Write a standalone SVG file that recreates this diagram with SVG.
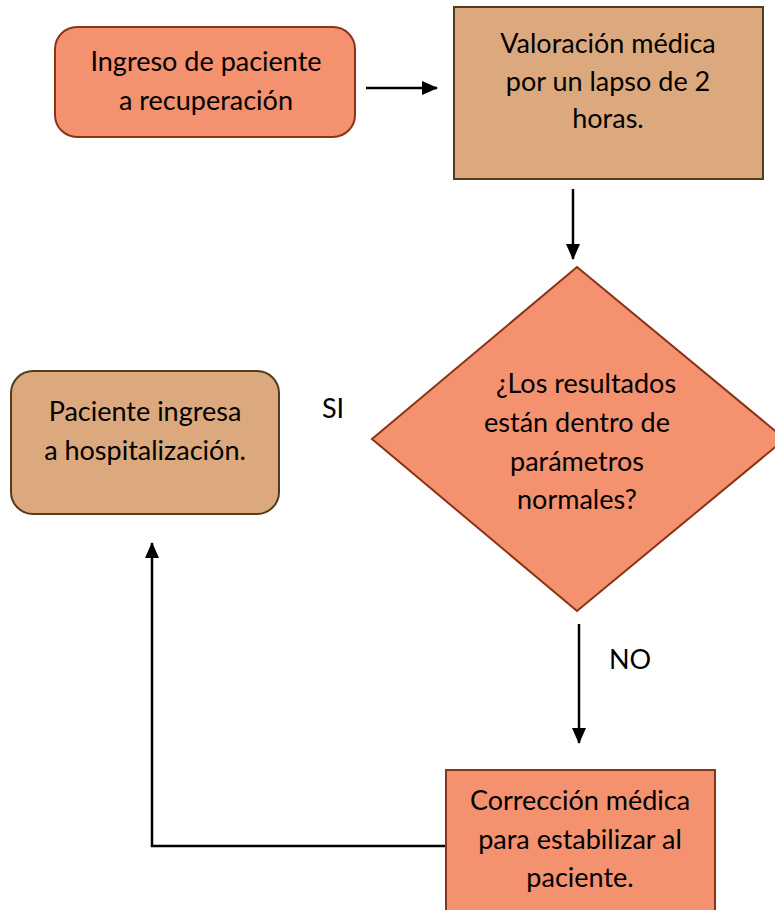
<svg xmlns="http://www.w3.org/2000/svg" width="775" height="910" viewBox="0 0 775 910">
<defs>
<style>
.salmon{fill:#F4916F;stroke:#8A3318;stroke-width:2}
.tan{fill:#DBA97D;stroke:#553A1E;stroke-width:2}
.t{font-family:"Lato","Open Sans","Liberation Sans",sans-serif;font-size:27px;fill:#000;text-anchor:middle}
.c{stroke:#000;stroke-width:2.5;fill:none}
</style>
<marker id="ah" markerWidth="16" markerHeight="14" refX="15" refY="7" orient="auto" markerUnits="userSpaceOnUse" viewBox="0 0 16 14">
<path d="M0,0 L16,7 L0,14 z" fill="#000"/>
</marker>
</defs>
<rect width="775" height="910" fill="#fff"/>
<g id="connectors">
<line class="c" x1="366" y1="88" x2="437" y2="88" marker-end="url(#ah)"/>
<line class="c" x1="573" y1="189" x2="573" y2="259" marker-end="url(#ah)"/>
<line class="c" x1="579" y1="624" x2="579" y2="743" marker-end="url(#ah)"/>
<polyline class="c" points="446,846 152,846 152,543" marker-end="url(#ah)"/>
<text class="t" x="333" y="418">SI</text>
<text class="t" x="630" y="669">NO</text>
</g>
<g id="ingreso">
<rect class="salmon" x="55" y="27" width="300" height="110" rx="22"/>
<text class="t" x="206" y="71">Ingreso de paciente</text>
<text class="t" x="206" y="110">a recuperación</text>
</g>
<g id="valoracion">
<rect class="tan" x="454" y="7" width="309" height="172"/>
<text class="t" x="608" y="53">Valoración médica</text>
<text class="t" x="608" y="91">por un lapso de 2</text>
<text class="t" x="608" y="128">horas.</text>
</g>
<g id="decision">
<polygon class="salmon" points="577,267 785,439 577,611 372,439"/>
<text class="t" x="586" y="393">¿Los resultados</text>
<text class="t" x="577" y="432">están dentro de</text>
<text class="t" x="577" y="471">parámetros</text>
<text class="t" x="577" y="509">normales?</text>
</g>
<g id="hospitalizacion">
<rect class="tan" x="11" y="371" width="268" height="143" rx="22"/>
<text class="t" x="145" y="421">Paciente ingresa</text>
<text class="t" x="145" y="460">a hospitalización.</text>
</g>
<g id="correccion">
<rect class="salmon" x="446" y="770" width="269" height="150"/>
<text class="t" x="580" y="810">Corrección médica</text>
<text class="t" x="580" y="849">para estabilizar al</text>
<text class="t" x="580" y="887">paciente.</text>
</g>
</svg>
